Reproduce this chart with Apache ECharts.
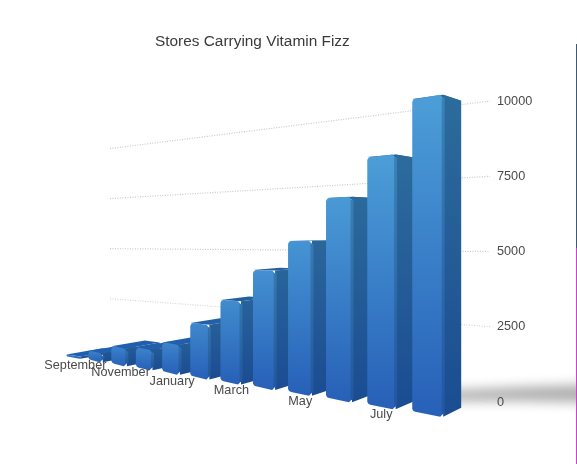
<!DOCTYPE html>
<html>
<head>
<meta charset="utf-8">
<style>html,body{margin:0;padding:0;background:#fff}#c{width:577px;height:464px}</style>
<script src="https://cdn.jsdelivr.net/npm/echarts@6/dist/echarts.min.js"></script>
</head>
<body>
<div id="c"></div>
<script>
const titleText = 'Stores Carrying Vitamin Fizz';
const categories = ['September','October','November','December','January','February','March','April','May','June','July','August'];
const storeCounts = [100,420,780,870,1230,2170,3180,4390,5480,6970,8270,10000];
const yTicks = [0,2500,5000,7500,10000];

// perspective of the front plane of the bars
const VP1 = [-631,245], A = 23160, B = 33.2, REF_X = 412;
const VP2 = [826,224], DEPTH = 0.047, BAR_W = 0.64;
const WALL_VP = [-645,243], WALL_R = 490;

function project(px, py, cs) {
  const band = cs.width / categories.length;
  const u = (px - cs.x) / band;
  const X = VP1[0] + A / (B - u);
  const r = (X - VP1[0]) / (REF_X - VP1[0]);
  const yr = 411.8 + (py - (cs.y + cs.height)) * 312.8 / cs.height;
  return [X, VP1[1] + (yr - VP1[1]) * r];
}
function back(p) { return [p[0] + (VP2[0] - p[0]) * DEPTH, p[1] + (VP2[1] - p[1]) * DEPTH]; }
function mix(a, b, t) {
  const h = s => [1,3,5].map(i => parseInt(s.substr(i,2),16));
  const x = h(a), y = h(b);
  return 'rgb(' + x.map((v,i) => Math.round(v + (y[i]-v)*t)).join(',') + ')';
}
function grad(top, bottom) {
  return {type:'linear',x:0,y:0,x2:0,y2:1,colorStops:[{offset:0,color:top},{offset:1,color:bottom}]};
}

function renderBar(params, api) {
  const cs = params.coordSys;
  const i = api.value(0), v = api.value(1);
  const band = cs.width / categories.length;
  const b0 = api.coord([i, 0]), t0 = api.coord([i, v]);
  const xl = b0[0] - band / 2, xr = xl + band * BAR_W;
  const fl = project(xl, t0[1], cs), fr = project(xr, t0[1], cs);
  const gl = project(xl, b0[1], cs), gr = project(xr, b0[1], cs);
  const bt = back(fr), bb = back(gr), bl = back(fl);
  const f = 0.5 + 0.5 * Math.min(1, v / 8000);
  const c = Math.min(3, Math.abs(gl[1] - fl[1]) / 3);
  const front = [
    [fl[0], fl[1] + c], [fl[0] + c * 0.35, fl[1] + c * 0.3], [fl[0] + c, fl[1]], [fr[0] - c, fr[1]], [fr[0], fr[1] + c],
    [gr[0], gr[1] - c], [gr[0] - c, gr[1]], [gl[0] + c, gl[1]], [gl[0] + c * 0.35, gl[1] - c * 0.3], [gl[0], gl[1] - c]
  ];
  const sideTop = mix('#1f4f94', '#2c6c9c', f), sideBottom = '#1b4c92';
  const frontTop = mix('#2861b8', '#4c9ed8', f), frontBottom = '#2760b8';
  const strip = 1.5;
  return {type:'group', children:[
    {type:'polygon', shape:{points:[fl, fr, bt, bl]}, style:{fill: mix('#1f5fb4', '#27618f', Math.min(1, v / 6000))}},
    {type:'polygon', shape:{points:[fr, bt, bb, gr]}, style:{fill: grad(sideTop, sideBottom)}},
    {type:'polygon', shape:{points:front}, style:{fill: grad(frontTop, frontBottom)}},
    {type:'polygon', shape:{points:[[fr[0]-strip,fr[1]+c],[fr[0]+strip,fr[1]+c],[gr[0]+strip,gr[1]-c],[gr[0]-strip,gr[1]-c]]},
      style:{fill: grad(mix('#24589f', '#3a82b4', f), '#22579f')}}
  ]};
}

function renderGrid(params, api) {
  const v = api.value(0);
  const py = api.coord([0, v])[1];
  const at = x => [x, WALL_VP[1] + (py - WALL_VP[1]) * (x - WALL_VP[0]) / (WALL_R - WALL_VP[0])];
  const from = v === 0 ? 440 : 110;
  return {type:'line', shape:{x1:at(from)[0],y1:at(from)[1],x2:at(WALL_R)[0],y2:at(WALL_R)[1]},
    style:{stroke: v === 0 ? '#cfcfcf' : (v === 2500 ? '#d6d6d6' : '#c8c8c8'), lineWidth:1.2, lineDash:[1,1.5]}};
}

function renderLabel(params, api) {
  const cs = params.coordSys;
  const i = api.value(0);
  if (i % 2 !== 0) return null;
  const band = cs.width / categories.length;
  const p0 = api.coord([i, 0]);
  const p = project(p0[0] - band / 2 + band * BAR_W / 2, p0[1], cs);
  return {type:'text', x:p[0] + (10 - i) * 0.2, y:p[1] + 8, style:{text:categories[i], fill:'#4a4a4a',
    font:'12.7px "Liberation Sans", Arial, sans-serif', textAlign:'center', textVerticalAlign:'middle'}};
}

const chart = echarts.init(document.getElementById('c'), null, {renderer:'canvas', width:577, height:464});
chart.setOption({
  animation:false,
  backgroundColor:'#ffffff',
  title:{text:titleText, left:155, top:34, padding:0,
    textStyle:{color:'#3a3a3a', fontSize:15.4, fontWeight:'normal', fontFamily:'"Liberation Sans", Arial, sans-serif'}},
  grid:{left:100, top:101, width:390, height:301},
  xAxis:{type:'category', data:categories, show:false},
  yAxis:{type:'value', position:'right', min:0, max:10000, interval:2500,
    axisLine:{show:false}, axisTick:{show:false}, splitLine:{show:false},
    axisLabel:{margin:7, color:'#4a4a4a', fontSize:12.7, formatter:v => String(v), fontFamily:'"Liberation Sans", Arial, sans-serif'}},
  graphic:[
    {type:'polygon', z:0, silent:true, shape:{points:[[-260,391],[-180,387],[-90,384],[-90,403],[-180,401],[-260,401]]},
      style:{fill:'#b0b0b0', shadowBlur:12, shadowColor:'#aeaeae', shadowOffsetX:700}},
    {type:'rect', z:10, silent:true, shape:{x:576,y:44,width:1,height:204}, style:{fill:'#3c5a76'}},
    {type:'rect', z:10, silent:true, shape:{x:576,y:248,width:1,height:216}, style:{fill:'#d040d0'}}
  ],
  series:[
    {type:'custom', z:1, silent:true, data:yTicks.map(v => [v]), encode:{y:0}, renderItem:renderGrid},
    {type:'custom', z:2, silent:true, data:storeCounts.map((v,i) => [i,v]), encode:{x:0,y:1}, renderItem:renderBar},
    {type:'custom', z:3, silent:true, data:categories.map((c,i) => [i]), encode:{x:0}, renderItem:renderLabel}
  ]
});
</script>
</body>
</html>
